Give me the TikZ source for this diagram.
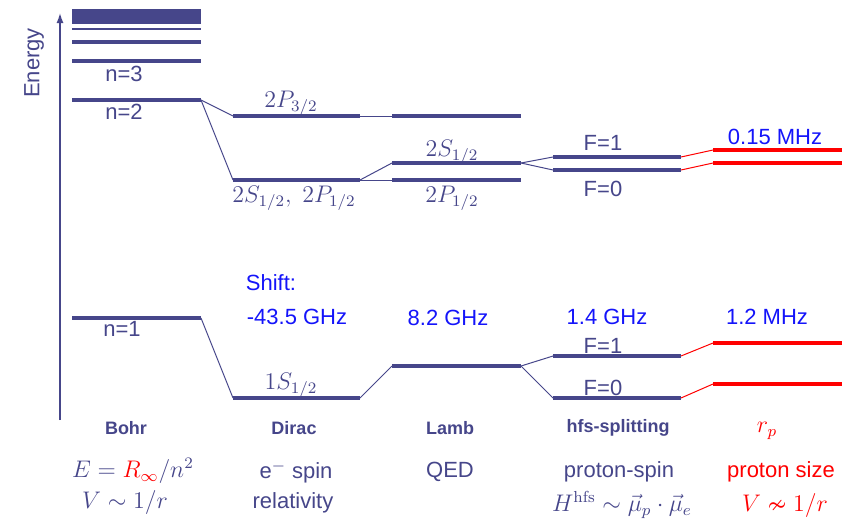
\documentclass[tikz,border=0pt]{standalone}
\usepackage{amssymb}
\usepackage[no-math]{fontspec}
\setmainfont{Liberation Sans}
\usetikzlibrary{arrows.meta}
\definecolor{lvl}{RGB}{70,70,138}
\definecolor{shiftblue}{RGB}{20,20,250}
\definecolor{rpred}{RGB}{255,0,0}
\tikzset{
  level/.style={line width=1.75pt,lvl},
  redlevel/.style={line width=2pt,rpred},
  link/.style={line width=0.5pt,lvl},
  redlink/.style={line width=0.5pt,rpred},
  lbl/.style={lvl,font=\fontsize{11}{13}\selectfont,inner sep=0pt},
  mlbl/.style={lvl,font=\fontsize{12}{14}\selectfont,inner sep=0pt},
  shiftlbl/.style={shiftblue,font=\fontsize{11}{13}\selectfont,inner sep=0pt},
  head/.style={lvl,font=\fontsize{9}{11}\selectfont\bfseries,inner sep=0pt}
}
\begin{document}
\begin{tikzpicture}[x=0.5pt,y=-0.5pt]
    \useasboundingbox (0,0) rectangle (846,520);
    % energy axis
    \coordinate (axis-b) at (60,420);
    \coordinate (axis-t) at (60,13);
    \draw[lvl, line width=0.7pt, -{Latex[length=5pt,width=3.5pt]}] (axis-b) -- (axis-t);
    \node[lbl, rotate=90] (energy) at (34,63) {Energy};

    % Bohr
    \fill[lvl] (72,9) rectangle (201,24);
    \draw[level, line width=1.4pt] (72,29) -- (201,29);
    \draw[level] (72,42) -- (201,42);
    \draw[level] (72,61) -- (201,61);
    \draw[level] (72,100) coordinate (bohr2-l) -- (201,100) coordinate (bohr2-r);
    \draw[level] (72,318) coordinate (bohr1-l) -- (201,318) coordinate (bohr1-r);
    \node[lbl] (n3) at (124,74) {n=3};
    \node[lbl] (n2) at (124,112) {n=2};
    \node[lbl] (n1) at (122,329) {n=1};

    % Dirac
    \draw[level] (233,116) coordinate (dirP-l) -- (360,116) coordinate (dirP-r);
    \draw[level] (233,180) coordinate (dirS-l) -- (360,180) coordinate (dirS-r);
    \draw[level] (233,398) coordinate (dir1-l) -- (360,398) coordinate (dir1-r);
    \node[mlbl] (p32) at (291,103) {$2P_{3/2}$};
    \node[mlbl] (s12p12) at (294,198) {$2S_{1/2},\ 2P_{1/2}$};
    \node[mlbl] (s1) at (291,385) {$1S_{1/2}$};
    \draw[link] (bohr2-r) -- (dirP-l);
    \draw[link] (bohr2-r) -- (dirS-l);
    \draw[link] (bohr1-r) -- (dir1-l);

    % Lamb
    \draw[level] (392,116) coordinate (lambP3-l) -- (521,116);
    \draw[level] (392,163) coordinate (lambS-l) -- (521,163) coordinate (lambS-r);
    \draw[level] (392,180) coordinate (lambP-l) -- (521,180);
    \draw[level] (392,366) coordinate (lamb1-l) -- (521,366) coordinate (lamb1-r);
    \node[mlbl] (ls12) at (452,152) {$2S_{1/2}$};
    \node[mlbl] (lp12) at (452,198) {$2P_{1/2}$};
    \draw[link] (dirP-r) -- (lambP3-l);
    \draw[link] (dirS-r) -- (lambS-l);
    \draw[link] (dirS-r) -- (lambP-l);
    \draw[link] (dir1-r) -- (lamb1-l);

    % hfs
    \draw[level] (553,157) coordinate (hfs21-l) -- (681,157) coordinate (hfs21-r);
    \draw[level] (553,170) coordinate (hfs20-l) -- (681,170) coordinate (hfs20-r);
    \draw[level] (553,356) coordinate (hfs11-l) -- (681,356) coordinate (hfs11-r);
    \draw[level] (553,398) coordinate (hfs10-l) -- (681,398) coordinate (hfs10-r);
    \node[lbl] (f21) at (603,143) {F=1};
    \node[lbl] (f20) at (603,189) {F=0};
    \node[lbl] (f11) at (603,346) {F=1};
    \node[lbl] (f10) at (603,388) {F=0};
    \draw[link] (lambS-r) -- (hfs21-l);
    \draw[link] (lambS-r) -- (hfs20-l);
    \draw[link] (lamb1-r) -- (hfs11-l);
    \draw[link] (lamb1-r) -- (hfs10-l);

    % proton size
    \draw[redlevel] (713,150) coordinate (rp21-l) -- (842,150);
    \draw[redlevel] (713,163) coordinate (rp20-l) -- (842,163);
    \draw[redlevel] (713,343) coordinate (rp11-l) -- (842,343);
    \draw[redlevel] (713,384) coordinate (rp10-l) -- (842,384);
    \draw[redlink] (hfs21-r) -- (rp21-l);
    \draw[redlink] (hfs20-r) -- (rp20-l);
    \draw[redlink] (hfs11-r) -- (rp11-l);
    \draw[redlink] (hfs10-r) -- (rp10-l);

    % shifts
    \node[shiftlbl] (shift) at (271,283) {Shift:};
    \node[shiftlbl] (sdirac) at (297,317) {-43.5 GHz};
    \node[shiftlbl] (slamb) at (448,318) {8.2 GHz};
    \node[shiftlbl] (shfs) at (607,317) {1.4 GHz};
    \node[shiftlbl] (srp1) at (767,317) {1.2 MHz};
    \node[shiftlbl] (srp2) at (775,137) {0.15 MHz};

    % columns
    \node[head] (bohr) at (126,428) {Bohr};
    \node[head] (dirac) at (294,428) {Dirac};
    \node[head] (lamb) at (450,428) {Lamb};
    \node[head] (hfs) at (618,428) {hfs-splitting};
    \node[mlbl, rpred] (rp) at (767,431) {$r_p$};
    \node[mlbl] (bohr-e) at (133,471) {$E = {\color{rpred}R_\infty}/n^2$};
    \node[mlbl] (bohr-v) at (125,502) {$V \sim 1/r$};
    \node[lbl] (dirac-a) at (296,472) {e$^-$ spin};
    \node[lbl] (dirac-b) at (293,503) {relativity};
    \node[lbl] (lamb-a) at (450,472) {QED};
    \node[lbl] (hfs-a) at (619,472) {proton-spin};
    \node[mlbl] (hfs-b) at (622,505) {$H^{\mathrm{hfs}} \sim \vec{\mu}_p \cdot \vec{\mu}_e$};
    \node[lbl, rpred] (rp-a) at (781,472) {proton size};
    \node[mlbl, rpred] (rp-b) at (785,505) {$V \nsim 1/r$};
\end{tikzpicture}
\end{document}
